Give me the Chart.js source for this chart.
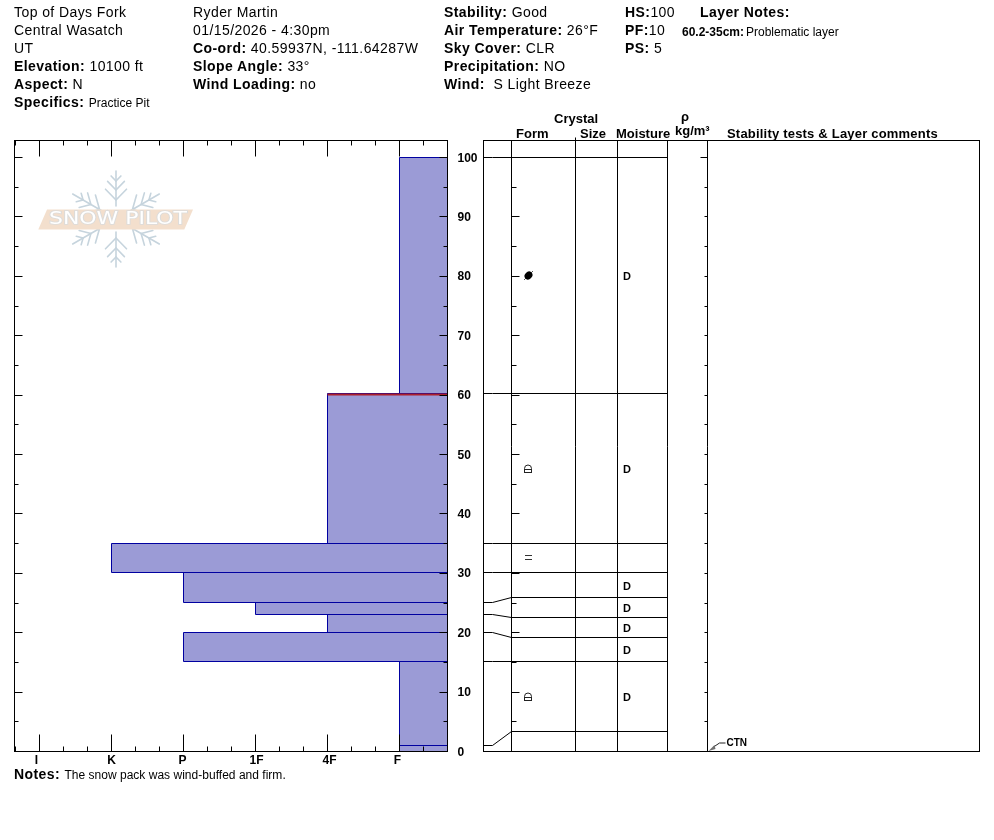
<!DOCTYPE html>
<html><head><meta charset="utf-8">
<script src="https://cdn.jsdelivr.net/npm/chart.js@4/dist/chart.umd.js"></script>
<style>
html,body{margin:0;padding:0;background:#fff;width:994px;height:840px;overflow:hidden}
canvas{position:absolute;top:0}
#hard{left:0}#grid{left:460px}
.t{position:absolute;white-space:nowrap;font:14px/18px "Liberation Sans",Arial,sans-serif;letter-spacing:.42px;color:#000;transform:translateY(-9px)}
.t b{font-weight:bold}
.s{font-size:12px;letter-spacing:.02px}.n{font-size:12px;letter-spacing:0}.h{font-weight:bold;font-size:13px;letter-spacing:0}
</style></head><body>
<canvas id="hard" width="490" height="840"></canvas>
<canvas id="grid" width="534" height="840"></canvas>
<div id="text"></div>
<script>
const hardnessLevels=['I','K','P','1F','4F','F'];
const layerTops=[100,60.2,35,30,25,23,20,15,1];
const layerBottoms=[60.2,35,30,25,23,20,15,1,0];
const layerHardness=['F','4F','K','P','1F','4F','P','F','F'];
const displayEdges=[100,60.2,35,30,25.8,22.4,19.1,15,3.3,0];
const actualEdges=[100,60.2,35,30,25,23,20,15,1,0];
const grainForms=['rounded','faceted','melt','','','','','faceted',''];
const moistures=['D','D','','D','D','D','D','D',''];
const problemLayerDepth=60.2;
const problemLayerHardness='4F';
const testDepths=[0];
const testCodes=['CTN'];
const depthTicks=[0,10,20,30,40,50,60,70,80,90,100];
const depthMinorTicks=[5,15,25,35,45,55,65,75,85,95];

const FONT='"Liberation Sans",Arial,sans-serif';
const hardMax=17/3, hardMin=-1/3, depthMax=611/5.94;
const colEdges=[28,92,134,184,224];
const formCol=45, moistCol=143.5, commentCol=224;
const labelNudge=[-3,0,-1,1,2,-2];
const snap=p=>Math.floor(p-0.5+1e-6)+0.5;
class SnapScale extends Chart.LinearScale{
  rawPixel(v){return super.getPixelForValue(v);}
  getPixelForValue(v){return snap(super.getPixelForValue(v));}
  _computeLabelItems(ca){
    const items=super._computeLabelItems(ca);
    if(this.options.labelNudge) items.forEach((it,i)=>{it.options.translation[0]+=this.options.labelNudge[i]||0;});
    if(this.options.roundLabels) items.forEach((it,i)=>{it.options.translation[1]=Math.round(this.rawPixel(this.ticks[i].value))+0.5;});
    return items;
  }
}
SnapScale.id='snap';SnapScale.defaults={};
Chart.register(SnapScale);

const rnd=p=>Math.round(p-0.5)+0.5;
const seg=(ctx,x1,y1,x2,y2)=>{ctx.beginPath();ctx.moveTo(x1,y1);ctx.lineTo(x2,y2);ctx.stroke();};

function drawLogo(ctx){
  const cx=116,cy=219;
  ctx.save();
  ctx.strokeStyle='#c6d4dd';ctx.lineWidth=1.6;ctx.lineCap='round';
  for(let i=0;i<6;i++){
    ctx.save();ctx.translate(cx,cy);ctx.rotate(Math.PI/2+i*Math.PI/3);
    const L=i%3===0?48:50;
    seg(ctx,13,0,L,0);
    [[19,15],[29,12],[38,7]].forEach(([r,l])=>{
      seg(ctx,r,0,r+l*0.72,l*0.7);seg(ctx,r,0,r+l*0.72,-l*0.7);
    });
    ctx.restore();
  }
  ctx.lineCap='butt';
  ctx.fillStyle='#f3dfcd';
  ctx.beginPath();ctx.moveTo(38.3,229.5);ctx.lineTo(47,209.5);ctx.lineTo(193,209.5);ctx.lineTo(184.3,229.5);ctx.closePath();ctx.fill();
  ctx.font='17px "DejaVu Sans",sans-serif';
  ctx.textBaseline='middle';ctx.textAlign='left';
  const w=ctx.measureText('SNOW PILOT').width;
  ctx.translate(49,220);ctx.scale(138/w,1);
  ctx.lineWidth=1.6;ctx.strokeStyle='#dcdcdb';ctx.strokeText('SNOW PILOT',0,0);
  ctx.fillStyle='#fff';ctx.fillText('SNOW PILOT',0,0);
  ctx.restore();
}

const hardAxes={
  id:'hardAxes',
  beforeDatasetsDraw(c){drawLogo(c.ctx);},
  afterDatasetsDraw(c){
    const {ctx,chartArea:a,scales:{x,y}}=c;
    ctx.save();ctx.strokeStyle='#000';ctx.lineWidth=1;
    const L=a.left-1;
    ctx.strokeRect(L,a.top,a.right-L,a.bottom-a.top);
    for(let i=0;i<=18;i++){
      const v=hardMin+i/3, p=rnd(x.rawPixel(v)), major=(i-1)%3===0;
      const top=major?16:5, bot=major?17:5;
      seg(ctx,p,a.top,p,a.top+top);seg(ctx,p,a.bottom,p,a.bottom-bot);
    }
    depthTicks.forEach(v=>{const p=rnd(y.rawPixel(v));seg(ctx,L,p,L+8,p);seg(ctx,a.right,p,a.right-8,p);});
    depthMinorTicks.forEach(v=>{const p=rnd(y.rawPixel(v));seg(ctx,L,p,L+4,p);seg(ctx,a.right,p,a.right-4,p);});
    ctx.restore();
  }
};

const layerPolys=layerTops.map((t,i)=>{
  const h=hardnessLevels.indexOf(layerHardness[i]), b=layerBottoms[i];
  return {type:'line',data:[{x:h,y:b},{x:h,y:t},{x:hardMax,y:t},{x:hardMax,y:b},{x:h,y:b}],
    borderColor:'#0000a0',backgroundColor:'#9b9bd6',borderWidth:1,fill:'shape',pointRadius:0,tension:0,clip:2};
});
const problemLine={type:'line',data:[{x:hardnessLevels.indexOf(problemLayerHardness),y:problemLayerDepth-0.2},{x:hardMax,y:problemLayerDepth-0.2}],
  borderColor:'#ab1f2c',borderWidth:2,pointRadius:0,fill:false,clip:2};

new Chart(document.getElementById('hard'),{
  type:'line',
  data:{datasets:[problemLine,...layerPolys]},
  plugins:[hardAxes],
  options:{
    responsive:false,animation:false,devicePixelRatio:1,
    layout:{padding:{left:15.5,top:140.5,right:490-447.5-30,bottom:840-751.5-25}},
    plugins:{legend:{display:false},tooltip:{enabled:false},filler:{drawTime:'beforeDatasetsDraw'}},
    scales:{
      x:{type:'snap',position:'bottom',min:hardMin,max:hardMax,labelNudge,
        afterBuildTicks:s=>{s.ticks=hardnessLevels.map((_,i)=>({value:i}));},
        afterFit:s=>{s.height=25;},
        grid:{display:false,drawTicks:false},border:{display:false},
        ticks:{autoSkip:false,maxRotation:0,padding:2,color:'#000',font:{family:FONT,size:12,weight:'bold'},callback:v=>hardnessLevels[v]}},
      y:{type:'snap',position:'right',min:0,max:depthMax,roundLabels:true,
        afterBuildTicks:s=>{s.ticks=depthTicks.map(v=>({value:v}));},
        afterFit:s=>{s.width=30;},
        grid:{display:false,drawTicks:false},border:{display:false},
        ticks:{autoSkip:false,padding:10,color:'#000',font:{family:FONT,size:12,weight:'bold'}}}
    }
  }
});

function symbol(w,h,fn){const c=document.createElement('canvas');c.width=w;c.height=h;const g=c.getContext('2d');fn(g);return c;}
const symbols={
  rounded:symbol(13,13,g=>{
    g.strokeStyle='#555';g.lineWidth=1;g.beginPath();g.moveTo(2,11);g.lineTo(11,2);g.stroke();
    g.fillStyle='#000';g.beginPath();g.ellipse(6.5,6.5,4.2,3.6,-Math.PI/4,0,Math.PI*2);g.fill();
  }),
  faceted:symbol(11,11,g=>{
    g.translate(0,1);
    g.strokeStyle='#222';g.lineWidth=1;
    g.strokeRect(1.5,5.5,7,3);
    g.beginPath();g.moveTo(1.5,5.5);g.lineTo(1.5,4.5);g.arc(5,4.5,3.5,Math.PI,0);g.lineTo(8.5,5.5);g.stroke();
  }),
  melt:symbol(9,7,g=>{g.strokeStyle='#333';g.lineWidth=1;g.beginPath();g.moveTo(1,1.5);g.lineTo(8,1.5);g.moveTo(1,5.5);g.lineTo(8,5.5);g.stroke();})
};
const mids=grainForms.map((_,i)=>(displayEdges[i]+displayEdges[i+1])/2);

const gridAxes={
  id:'gridAxes',
  afterDatasetsDraw(c){
    const {ctx,chartArea:a,scales:{x,y}}=c;
    ctx.save();ctx.strokeStyle='#000';ctx.lineWidth=1;
    ctx.strokeRect(a.left,a.top,a.right-a.left,a.bottom-a.top);
    const fl=x.getPixelForValue(colEdges[0]), cl=x.getPixelForValue(commentCol);
    depthTicks.forEach(v=>{const p=rnd(y.rawPixel(v));seg(ctx,fl,p,fl+8,p);seg(ctx,cl,p,cl-(v===100?7:3),p);});
    depthMinorTicks.forEach(v=>{const p=rnd(y.rawPixel(v));seg(ctx,fl,p,fl+5,p);seg(ctx,cl,p,cl-3,p);});
    const sz=x.getPixelForValue(colEdges[1]);seg(ctx,sz,a.top,sz,a.top-3);
    ctx.fillStyle='#000';ctx.textAlign='center';ctx.textBaseline='middle';ctx.font='bold 11px '+FONT;
    moistures.forEach((m,i)=>{if(m)ctx.fillText(m,x.getPixelForValue(moistCol)+0.5,y.getPixelForValue(mids[i])+1);});
    ctx.font='bold 10px '+FONT;
    testDepths.forEach((d,i)=>{
      const py=y.getPixelForValue(d)-0.5,px=cl+1;
      ctx.strokeStyle='#222';seg(ctx,px+5,py-4,px+11,py-8);seg(ctx,px+11,py-8,px+17,py-8);
      ctx.fillStyle='#707070';ctx.beginPath();ctx.moveTo(px,py);ctx.lineTo(px+6,py-6);ctx.lineTo(px+7,py-2);ctx.closePath();ctx.fill();
      ctx.fillStyle='#000';ctx.textAlign='left';ctx.fillText(testCodes[i],px+18,py-8);
    });
    ctx.restore();
  }
};
const rowLines=actualEdges.map((a,i)=>({type:'line',
  data:[{x:0,y:a},{x:9,y:a},{x:colEdges[0],y:displayEdges[i]},{x:colEdges[3],y:displayEdges[i]}],
  borderColor:'#000',borderWidth:1,pointRadius:0,fill:false,tension:0}));
const symbolRows=grainForms.map((f,i)=>f?i:-1).filter(i=>i>=0);
const formPoints={type:'scatter',data:symbolRows.map(i=>({x:formCol,y:mids[i]})),
  pointStyle:symbolRows.map(i=>symbols[grainForms[i]]),pointRadius:5,showLine:false};

new Chart(document.getElementById('grid'),{
  type:'line',
  data:{datasets:[formPoints,...rowLines]},
  plugins:[gridAxes],
  options:{
    responsive:false,animation:false,devicePixelRatio:1,
    layout:{padding:{left:23.5,top:140.5,right:14.5,bottom:840-751.5}},
    plugins:{legend:{display:false},tooltip:{enabled:false}},
    scales:{
      x:{type:'snap',position:'bottom',min:0,max:496,
        afterBuildTicks:s=>{s.ticks=colEdges.map(v=>({value:v}));},
        afterFit:s=>{s.height=0;},
        grid:{color:'#000',lineWidth:1,drawTicks:false},border:{display:false},ticks:{display:false}},
      y:{type:'snap',position:'left',min:0,max:depthMax,display:false}
    }
  }
});

const texts=[
 [14,12,'Top of Days Fork'],[14,30,'Central Wasatch'],[14,48,'UT'],[14,66,'<b>Elevation:</b> 10100 ft'],[14,84,'<b>Aspect:</b> N'],
 [14,102,'<b>Specifics:</b> <span class="s">Practice Pit</span>'],
 [193,12,'Ryder Martin'],[193,30,'01/15/2026 - 4:30pm'],[193,48,'<b>Co-ord:</b> 40.59937N, -111.64287W'],[193,66,'<b>Slope Angle:</b> 33°'],[193,84,'<b>Wind Loading:</b> no'],
 [444,12,'<b>Stability:</b> Good'],[444,30,'<b>Air Temperature:</b> 26°F'],[444,48,'<b>Sky Cover:</b> CLR'],[444,66,'<b>Precipitation:</b> NO'],[444,84,'<b>Wind:</b>&nbsp; S Light Breeze'],
 [625,12,'<b>HS:</b>100'],[625,30,'<b>PF:</b>10'],[625,48,'<b>PS:</b> 5'],[700,12,'<b>Layer Notes:</b>'],
 [682,31,'<span class="n"><b>60.2-35cm:</b></span>'],[746,31,'<span class="n">Problematic layer</span>'],
 [554,118,'<span class="h">Crystal</span>'],[516,133,'<span class="h">Form</span>'],[580,133,'<span class="h">Size</span>'],[616,133,'<span class="h">Moisture</span>'],
 [681,116,'<span class="h">ρ</span>'],[675,130,'<span class="h">kg/m³</span>'],[727,133,'<span class="h" style="letter-spacing:.2px">Stability tests &amp; Layer comments</span>'],
 [14,774,'<b>Notes:</b> <span class="s">The snow pack was wind-buffed and firm.</span>']
];
document.getElementById('text').innerHTML=texts.map(([x,y,h])=>`<div class="t" style="left:${x}px;top:${y}px">${h}</div>`).join('');
</script>
</body></html>
